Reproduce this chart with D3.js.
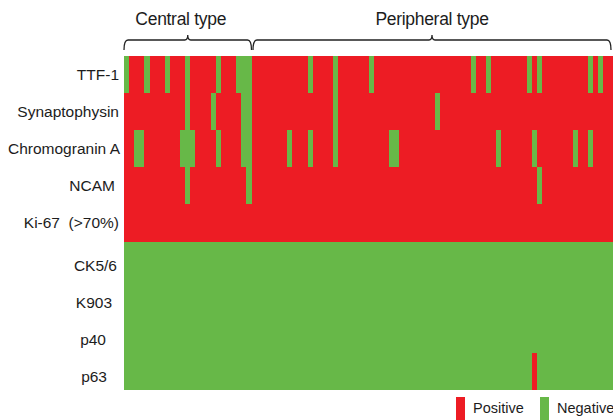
<!DOCTYPE html>
<html>
<head>
<meta charset="utf-8">
<script src="https://cdn.jsdelivr.net/npm/d3@7"></script>
<style>
  html, body { margin: 0; padding: 0; background: #fff; }
  svg { display: block; }
  text { font-family: "Liberation Sans", Arial, sans-serif; fill: #1c1c1c; white-space: pre; }
</style>
</head>
<body>
<svg id="chart" width="613" height="420"></svg>
<script>
// ---------------- data ----------------
const markers = ["TTF-1", "Synaptophysin", "Chromogranin A", "NCAM", "Ki-67  (>70%)",
                 "CK5/6", "K903", "p40", "p63"];
const groups = ["Central type", "Peripheral type"];
const groupSizes = [25, 71];               // number of cases per type
// default status of each marker row (1 = positive, 0 = negative)
const rowDefault = [1, 1, 1, 1, 1, 0, 0, 0, 0];
// case indices that deviate from the row default
const ttf1Exceptions          = [0, 4, 8, 12, 18, 22, 23, 24, 36, 41, 48, 68, 71, 79, 81, 91, 93];
const synaptophysinExceptions = [12, 17, 23, 24, 41, 61];
const chromograninExceptions  = [2, 3, 11, 12, 13, 18, 23, 24, 32, 36, 41, 52, 53, 73, 80, 88, 91];
const ncamExceptions          = [12, 24, 81];
const ki67Exceptions          = [];
const ck56Exceptions          = [];
const k903Exceptions          = [];
const p40Exceptions           = [];
const p63Exceptions           = [80];
const legendLabels = ["Positive", "Negative"];

// ---------------- build cells ----------------
const exceptions = [ttf1Exceptions, synaptophysinExceptions, chromograninExceptions, ncamExceptions,
                    ki67Exceptions, ck56Exceptions, k903Exceptions, p40Exceptions, p63Exceptions];
const nCases = d3.sum(groupSizes);
const cases = d3.range(nCases);
const cells = [];
markers.forEach((m, r) => {
  const ex = new Set(exceptions[r]);
  cases.forEach(c => {
    const v = ex.has(c) ? 1 - rowDefault[r] : rowDefault[r];
    cells.push({ marker: m, c, v });
  });
});

// ---------------- layout ----------------
const RED = "#ED1C24", GREEN = "#67B848";
const svg = d3.select("#chart");
const mLeft = 124, mTop = 56, mBottom = 390, colW = 5.1;
const x = d3.scaleBand().domain(cases).range([mLeft, mLeft + nCases * colW]).paddingInner(0).paddingOuter(0);
const y = d3.scaleBand().domain(markers).range([mTop, mBottom]).padding(0);
const color = d3.scaleOrdinal().domain([1, 0]).range([RED, GREEN]);

svg.append("g").attr("shape-rendering", "crispEdges")
  .selectAll("rect").data(cells).join("rect")
  .attr("x", d => x(d.c))
  .attr("y", d => y(d.marker))
  .attr("width", x.bandwidth())
  .attr("height", y.bandwidth())
  .attr("fill", d => color(d.v));

// row labels
const labelRight = [119, 119, 120, 115, 119, 117, 112, 106, 107];
svg.append("g").selectAll("text").data(markers).join("text")
  .attr("x", (d, i) => labelRight[i])
  .attr("y", (d, i) => y(d) + y.bandwidth() / 2 + (i >= 5 ? 5 : 0))
  .attr("dy", "0.35em")
  .attr("text-anchor", "end")
  .style("font-size", "15.5px")
  .text(d => d);

// group braces
let start = 0;
const braceY = 40;
groups.forEach((g, i) => {
  const x0 = x(start) + (i === 0 ? 0 : 1.5);
  const x1 = i === groups.length - 1 ? 611 : x(start + groupSizes[i] - 1) + x.bandwidth();
  const mid = (x0 + x1) / 2;
  const p = d3.path();
  p.moveTo(x0, braceY + 10);
  p.quadraticCurveTo(x0, braceY, x0 + 4, braceY);
  p.lineTo(mid - 3, braceY);
  p.quadraticCurveTo(mid, braceY, mid, braceY - 5);
  p.quadraticCurveTo(mid, braceY, mid + 3, braceY);
  p.lineTo(x1 - 4, braceY);
  p.quadraticCurveTo(x1, braceY, x1, braceY + 10);
  svg.append("path").attr("d", p.toString())
    .attr("fill", "none").attr("stroke", "#222").attr("stroke-width", 1.3);
  svg.append("text")
    .attr("x", i === 0 ? mid - 7 : mid)
    .attr("y", 25)
    .attr("text-anchor", "middle")
    .style("font-size", "17.5px")
    .style("letter-spacing", "-0.3px")
    .text(g);
  start += groupSizes[i];
});

// legend
const legendX = [456, 540];
const lg = svg.append("g");
legendLabels.forEach((l, i) => {
  lg.append("rect").attr("x", legendX[i]).attr("y", 397).attr("width", 9).attr("height", 24)
    .attr("fill", color(i === 0 ? 1 : 0));
  lg.append("text").attr("x", legendX[i] + 17).attr("y", 413)
    .style("font-size", "14.5px").text(l);
});
</script>
</body>
</html>
